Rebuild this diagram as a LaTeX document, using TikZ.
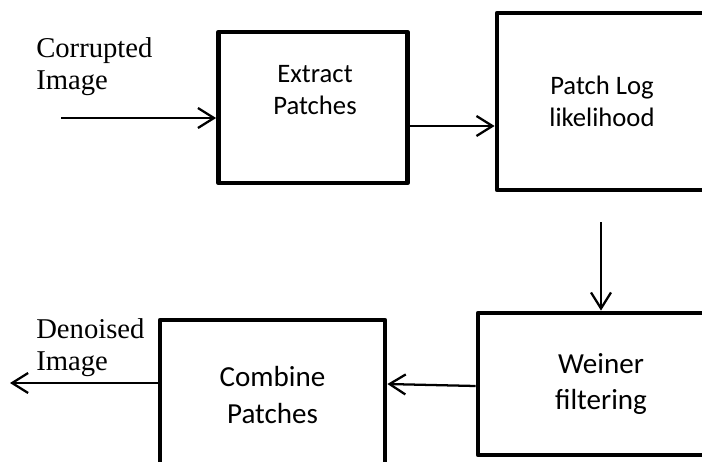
\documentclass[tikz,border=0pt]{standalone}
\usepackage{fontspec}
\setmainfont{Liberation Serif}
\newfontfamily\boxfont{Carlito}
\usetikzlibrary{arrows.meta,calc}
\tikzset{
  blk/.style={rectangle, draw=black, line width=3.6pt, line join=round, inner sep=0pt},
  blktxt/.style={font=\boxfont\fontsize{20}{24}\selectfont, align=center, inner sep=0pt},
  bigtxt/.style={font=\boxfont\fontsize{21.8}{27.5}\selectfont, align=center, inner sep=0pt},
  lbl/.style={font=\fontsize{21.5}{24}\selectfont, align=left, inner sep=0pt, anchor=base west},
  flow/.style={-{Straight Barb[length=12pt, width=15pt]}, draw=black, line width=1.7pt}
}
\begin{document}
\begin{tikzpicture}[x=0.75pt, y=-0.75pt]
\useasboundingbox (0,0) rectangle (702,461);
\clip (0,0) rectangle (702,461);

% --- top row
\node[blk, minimum width=141.75pt, minimum height=113.25pt] (extract) at (313,107.5) {};
\node[blktxt] (extractT) at (315,90) {Extract\\Patches};
\node[blk, minimum width=157.5pt, minimum height=132.75pt, blktxt] (plog) at (602,101.5) {Patch Log\\likelihood};

% --- bottom row
\node[blk, minimum width=184.5pt, minimum height=106.5pt, bigtxt] (weiner) at (601,384) {Weiner\\filtering};
\node[blk, minimum width=168.75pt, minimum height=112.5pt, bigtxt] (combine) at (272.5,395) {Combine\\Patches};

% --- ends
\coordinate (in) at (61,118);
\coordinate (out) at (10,383);
\node[lbl] (inL) at (36,89) {Corrupted\\Image};
\node[lbl] (outL) at (36,370) {Denoised\\Image};

\draw[flow] (in) -- (extract.west |- in);
\draw[flow] ($(extract.east)+(0,18.5)$) -- ($(plog.west)+(0,24.5)$);
\draw[flow] ($(plog.south)+(-1,30)$) -- (weiner.north);
\draw[flow] ($(weiner.west)+(0,2)$) -- ($(combine.east)+(0,-11)$);
\draw[flow] ($(combine.west)+(0,-12)$) -- (out);
\end{tikzpicture}
\end{document}
